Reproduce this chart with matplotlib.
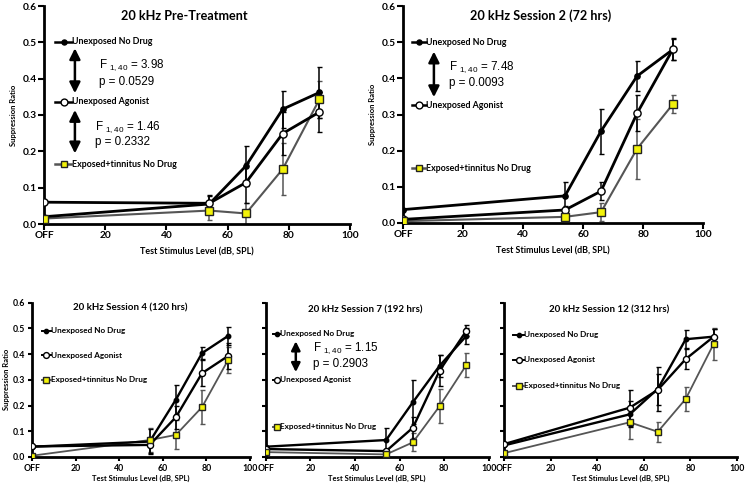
import matplotlib
matplotlib.use("Agg")
import matplotlib.pyplot as plt

plt.rcParams['font.family'] = ['Lato', 'DejaVu Sans']
plt.rcParams['mathtext.fontset'] = 'custom'
plt.rcParams['mathtext.rm'] = 'Liberation Sans'

# ---------------- data ----------------
levels = [0, 54, 66, 78, 90]
xticks = [0, 20, 40, 60, 80, 100]
xtick_labels = ['OFF', '20', '40', '60', '80', '100']
series_names = ['Unexposed No Drug', 'Unexposed Agonist', 'Exposed+tinnitus No Drug']

pre_nodrug = [0.020, 0.055, 0.160, 0.316, 0.362]
pre_nodrug_err = [0.0, 0.025, 0.055, 0.051, 0.069]
pre_agonist = [0.060, 0.057, 0.114, 0.249, 0.308]
pre_agonist_err = [0.0, 0.020, 0.055, 0.060, 0.056]
pre_exposed = [0.015, 0.037, 0.029, 0.151, 0.343]
pre_exposed_err = [0.0, 0.025, 0.030, 0.072, 0.050]

s2_nodrug = [0.037, 0.075, 0.254, 0.406, 0.480]
s2_nodrug_err = [0.0, 0.037, 0.062, 0.042, 0.030]
s2_agonist = [0.010, 0.036, 0.088, 0.303, 0.481]
s2_agonist_err = [0.0, 0.010, 0.025, 0.050, 0.030]
s2_exposed = [0.005, 0.017, 0.030, 0.205, 0.329]
s2_exposed_err = [0.0, 0.010, 0.025, 0.083, 0.026]

s4_nodrug = [0.040, 0.060, 0.223, 0.404, 0.471]
s4_nodrug_err = [0.0, 0.048, 0.056, 0.023, 0.036]
s4_agonist = [0.041, 0.047, 0.155, 0.326, 0.393]
s4_agonist_err = [0.0, 0.030, 0.045, 0.050, 0.050]
s4_exposed = [0.005, 0.066, 0.086, 0.194, 0.378]
s4_exposed_err = [0.0, 0.045, 0.056, 0.065, 0.050]

s7_nodrug = [0.040, 0.066, 0.213, 0.355, 0.471]
s7_nodrug_err = [0.0, 0.048, 0.085, 0.042, 0.030]
s7_agonist = [0.031, 0.023, 0.114, 0.336, 0.491]
s7_agonist_err = [0.0, 0.010, 0.040, 0.060, 0.022]
s7_exposed = [0.019, 0.010, 0.057, 0.198, 0.358]
s7_exposed_err = [0.0, 0.008, 0.035, 0.065, 0.045]

s12_nodrug = [0.045, 0.166, 0.265, 0.458, 0.468]
s12_nodrug_err = [0.0, 0.050, 0.085, 0.035, 0.030]
s12_agonist = [0.050, 0.192, 0.261, 0.381, 0.468]
s12_agonist_err = [0.0, 0.070, 0.060, 0.040, 0.030]
s12_exposed = [0.015, 0.135, 0.098, 0.226, 0.440]
s12_exposed_err = [0.0, 0.065, 0.038, 0.047, 0.063]

titles = ['20 kHz Pre-Treatment', '20 kHz Session 2 (72 hrs)', '20 kHz Session 4 (120 hrs)',
          '20 kHz Session 7 (192 hrs)', '20 kHz Session 12 (312 hrs)']
ytick_labels = ['0.0', '0.1', '0.2', '0.3', '0.4', '0.5', '0.6']

YELLOW = '#f2f20a'
GRAY = '#555555'

W, H = 748, 487
fig = plt.figure(figsize=(W / 100, H / 100), dpi=100)


def px_axes(l, r, top, bot):
    return fig.add_axes([l / W, (H - bot) / H, (r - l) / W, (bot - top) / H])


def styles(big):
    ms = 1.0 if big else 0.85
    return [
        dict(line_color='black', lw=2.0 if big else 1.7, marker='o', mfc='black', mec='black', ms=3.8 * ms, ecolor='black'),
        dict(line_color='black', lw=2.0 if big else 1.7, marker='o', mfc='white', mec='black', ms=5.2 * ms, ecolor='black'),
        dict(line_color=GRAY, lw=1.5 if big else 1.3, marker='s', mfc=YELLOW, mec='#222222', ms=5.2 * ms, ecolor=GRAY),
    ]


def draw_panel(ax, data, title, big, legend_pos, show_ylab, title_pos):
    st = styles(big)
    for k in [2, 1, 0]:
        y, e = data[k]
        s = st[k]
        ax.errorbar(levels, y, yerr=e, fmt='none', ecolor=s['ecolor'], elinewidth=1.1,
                    capsize=1.8, capthick=1.0, zorder=2)
        ax.plot(levels, y, '-', color=s['line_color'], lw=s['lw'], zorder=3)
    for k in [0, 1, 2]:
        y, e = data[k]
        s = st[k]
        ax.plot(levels, y, linestyle='none', marker=s['marker'], mfc=s['mfc'], mec=s['mec'],
                ms=s['ms'], mew=1.0, zorder=4 + k)
    ax.set_xlim(0, 100)
    ax.set_ylim(0, 0.6)
    ax.set_xticks(xticks)
    ax.set_xticklabels(xtick_labels)
    ax.set_yticks([0, 0.1, 0.2, 0.3, 0.4, 0.5, 0.6])
    fs = 7.3 if big else 6.3
    lfs = 6.4 if big else 5.5
    if show_ylab:
        ax.set_yticklabels(ytick_labels)
        ax.set_ylabel('Suppression Ratio', fontsize=5.5, fontweight='bold',
                      labelpad=4 if big else 2)
    else:
        ax.set_yticklabels([])
    ax.set_xlabel('Test Stimulus Level (dB, SPL)', fontsize=lfs, fontweight='bold', labelpad=5.5 if big else 1.5)
    for t in ax.get_xticklabels() + ax.get_yticklabels():
        t.set_fontweight('bold')
        t.set_fontsize(fs)
    for sp in ['top', 'right']:
        ax.spines[sp].set_visible(False)
    for sp in ['left', 'bottom']:
        ax.spines[sp].set_linewidth(2.0)
    ax.tick_params(direction='out', length=4 if big else 3, width=1.5, pad=1.2 if big else 1.8)
    ax.text(title_pos[0], title_pos[1], title, transform=ax.transAxes, ha='center', va='center',
            fontsize=9.1 if big else 7.0, fontweight='bold')
    gx, tx, ys = legend_pos
    for k in range(3):
        s = st[k]
        ax.plot([gx, gx + (tx - gx) * 0.5, tx], [ys[k]] * 3, transform=ax.transAxes,
                color='black' if k < 2 else GRAY, lw=1.8 if big else 1.4, marker=s['marker'], markevery=[1],
                mfc=s['mfc'], mec=s['mec'], ms=s['ms'] * 0.95, mew=1.0, clip_on=False, zorder=6)
        ax.text(tx, ys[k], series_names[k], transform=ax.transAxes, ha='left', va='center',
                fontsize=6.4 if big else 5.9, fontweight='bold')


def stat(ax, ax_x, y0, y1, tx, fy, py, fval, pval, big):
    ax.annotate('', xy=(ax_x, y0), xytext=(ax_x, y1), xycoords='axes fraction',
                arrowprops=dict(arrowstyle='<|-|>', lw=1.8, color='black',
                                mutation_scale=16 if big else 13, shrinkA=0, shrinkB=0))
    fs = 8.4
    ax.text(tx, fy, r'F $_{\mathregular{1,40}}$ = ' + fval, transform=ax.transAxes,
            fontsize=fs, family='Liberation Sans', va='center', ha='left')
    ax.text(tx, py, 'p = ' + pval, transform=ax.transAxes,
            fontsize=fs, family='Liberation Sans', va='center', ha='left')


ax1 = px_axes(44, 350, 6, 224)
draw_panel(ax1, [(pre_nodrug, pre_nodrug_err), (pre_agonist, pre_agonist_err), (pre_exposed, pre_exposed_err)],
           titles[0], True, (0.036, 0.0915, [0.836, 0.561, 0.274]), True, (0.46, 0.955))
stat(ax1, 0.101, 0.806, 0.60, 0.181, 0.729, 0.653, '3.98', '0.0529', True)
stat(ax1, 0.101, 0.523, 0.324, 0.167, 0.446, 0.378, '1.46', '0.2332', True)

ax2 = px_axes(403, 703, 6, 223)
draw_panel(ax2, [(s2_nodrug, s2_nodrug_err), (s2_agonist, s2_agonist_err), (s2_exposed, s2_exposed_err)],
           titles[1], True, (0.03, 0.075, [0.833, 0.543, 0.253]), True, (0.46, 0.955))
stat(ax2, 0.103, 0.79, 0.58, 0.153, 0.717, 0.645, '7.48', '0.0093', True)

ax3 = px_axes(32, 250, 302.7, 457)
draw_panel(ax3, [(s4_nodrug, s4_nodrug_err), (s4_agonist, s4_agonist_err), (s4_exposed, s4_exposed_err)],
           titles[2], False, (0.045, 0.085, [0.817, 0.658, 0.5]), True, (0.45, 0.967))

ax4 = px_axes(265.7, 488.7, 302.7, 457)
draw_panel(ax4, [(s7_nodrug, s7_nodrug_err), (s7_agonist, s7_agonist_err), (s7_exposed, s7_exposed_err)],
           titles[3], False, (0.033, 0.066, [0.8, 0.5, 0.197]), False, (0.445, 0.95))
stat(ax4, 0.135, 0.75, 0.55, 0.213, 0.708, 0.603, '1.15', '0.2903', False)

ax5 = px_axes(504, 737, 302.7, 457)
draw_panel(ax5, [(s12_nodrug, s12_nodrug_err), (s12_agonist, s12_agonist_err), (s12_exposed, s12_exposed_err)],
           titles[4], False, (0.04, 0.085, [0.792, 0.63, 0.463]), False, (0.453, 0.955))

fig.savefig('out.png', dpi=100)
